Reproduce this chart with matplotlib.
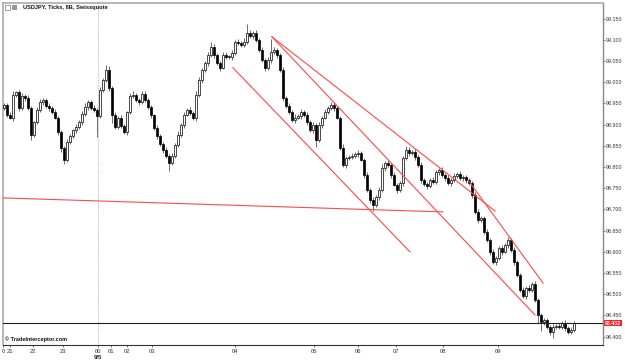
import numpy as np
import matplotlib
matplotlib.use("Agg")
import matplotlib.pyplot as plt
import matplotlib.transforms as mtransforms
from matplotlib.patches import Rectangle

# --- données (tick bars USDJPY) ---
first_open = 98.940
closes = [
    98.946, 98.923, 98.916, 98.970, 98.977, 98.939, 98.968, 98.963, 98.939, 98.876,
    98.906, 98.935, 98.953, 98.958, 98.944, 98.939, 98.930, 98.916, 98.883, 98.845,
    98.817, 98.859, 98.873, 98.887, 98.895, 98.906, 98.925, 98.942, 98.953, 98.939,
    98.935, 98.920, 98.982, 99.005, 99.029, 98.987, 98.923, 98.895, 98.916, 98.897,
    98.883, 98.930, 98.968, 98.970, 98.958, 98.953, 98.972, 98.958, 98.942, 98.923,
    98.892, 98.873, 98.854, 98.840, 98.826, 98.810, 98.826, 98.852, 98.876, 98.899,
    98.923, 98.935, 98.928, 98.916, 98.970, 99.005, 99.029, 99.045, 99.064, 99.083,
    99.064, 99.045, 99.034, 99.064, 99.060, 99.060, 99.069, 99.095, 99.093, 99.088,
    99.095, 99.116, 99.109, 99.116, 99.100, 99.076, 99.052, 99.034, 99.052, 99.071,
    99.076, 99.064, 99.029, 98.963, 98.944, 98.930, 98.911, 98.916, 98.920, 98.930,
    98.923, 98.906, 98.887, 98.899, 98.864, 98.899, 98.916, 98.930, 98.939, 98.946,
    98.939, 98.916, 98.845, 98.805, 98.821, 98.824, 98.826, 98.831, 98.833, 98.817,
    98.781, 98.746, 98.722, 98.710, 98.729, 98.746, 98.798, 98.810, 98.805, 98.781,
    98.758, 98.746, 98.762, 98.821, 98.840, 98.833, 98.835, 98.824, 98.805, 98.769,
    98.760, 98.755, 98.769, 98.765, 98.788, 98.793, 98.781, 98.774, 98.762, 98.769,
    98.779, 98.784, 98.774, 98.776, 98.769, 98.762, 98.734, 98.694, 98.675, 98.680,
    98.647, 98.628, 98.600, 98.576, 98.585, 98.609, 98.600, 98.616, 98.628, 98.604,
    98.576, 98.545, 98.510, 98.496, 98.515, 98.510, 98.524, 98.486, 98.451, 98.434,
    98.439, 98.423, 98.411, 98.423, 98.425, 98.423, 98.432, 98.420, 98.411, 98.415,
    98.432,
]
# mèches en millièmes de yen
hi_wick = [
    5, 4, 6, 8, 3, 5, 7, 4, 6, 5, 3, 6, 8, 4, 5, 6, 4, 7, 5, 3,
    4, 6, 5, 3, 7, 4, 6, 8, 5, 4, 6, 5, 7, 4, 12, 8, 5, 6, 4, 7,
    5, 3, 6, 8, 4, 5, 7, 6, 4, 5, 3, 6, 5, 4, 7, 5, 6, 4, 8, 5,
    6, 4, 7, 5, 8, 6, 4, 5, 7, 12, 6, 5, 4, 8, 6, 5, 7, 4, 6, 5,
    8, 20, 6, 5, 7, 4, 6, 5, 8, 30, 6, 5, 4, 7, 5, 6, 4, 8, 5, 6,
    4, 7, 5, 6, 5, 8, 4, 6, 5, 7, 6, 4, 5, 8, 6, 5, 7, 4, 6, 5,
    5, 6, 4, 7, 5, 6, 8, 4, 6, 5, 7, 4, 6, 5, 10, 6, 4, 7, 5, 6,
    5, 4, 6, 7, 5, 4, 6, 5, 8, 4, 6, 5, 7, 4, 6, 5, 4, 8, 6, 5,
    4, 6, 5, 7, 6, 4, 8, 5, 6, 4, 7, 5, 6, 8, 4, 6, 5, 7, 6, 4,
    5, 6, 4, 7, 5, 6, 4, 6, 5, 7, 4,
]
lo_wick = [
    6, 5, 4, 7, 5, 6, 4, 8, 5, 12, 6, 4, 5, 7, 4, 6, 5, 4, 8, 10,
    10, 5, 6, 4, 7, 5, 6, 4, 8, 5, 6, 50, 4, 6, 5, 7, 20, 5, 6, 4,
    5, 7, 4, 6, 5, 8, 4, 6, 5, 7, 4, 6, 5, 7, 6, 20, 5, 4, 6, 5,
    7, 4, 6, 5, 8, 4, 6, 5, 7, 4, 6, 5, 8, 4, 6, 5, 7, 4, 6, 5,
    5, 6, 4, 8, 5, 6, 4, 7, 5, 6, 4, 6, 5, 7, 4, 6, 5, 8, 4, 6,
    5, 7, 4, 6, 18, 5, 7, 4, 6, 5, 8, 4, 6, 5, 7, 4, 6, 5, 8, 4,
    6, 5, 7, 15, 5, 6, 4, 8, 5, 6, 4, 7, 5, 6, 4, 6, 5, 8, 4, 6,
    5, 7, 4, 6, 5, 8, 4, 6, 5, 7, 4, 6, 5, 8, 6, 4, 7, 5, 6, 4,
    6, 5, 8, 4, 6, 5, 7, 4, 6, 5, 8, 4, 6, 5, 7, 4, 6, 5, 20, 20,
    6, 5, 8, 15, 4, 6, 5, 7, 4, 6, 5,
]
last_price = 98.432

# axe des temps (index de barre -> heure)
time_pos = [-0.2, 1.9, 9.7, 19.7, 31.3, 35.7, 41.0, 49.3, 77.0, 103.3, 118.0, 130.7, 146.3, 164.7]
time_labels = ["0", "21", "22", "23", "00", "01", "02", "03", "04", "05", "06", "07", "08", "09"]
day_pos = 31.3
day_label = "9/5"

# lignes de tendance (index, prix)
trend_lines = [
    ((-0.3, 98.727), (146.3, 98.694)),
    ((76.3, 99.034), (135.3, 98.600)),
    ((89.3, 99.107), (163.7, 98.696)),
    ((89.3, 99.107), (177.0, 98.451)),
    ((154.7, 98.769), (179.7, 98.526)),
]

y_ticks = np.arange(98.40, 99.151, 0.05)

plt.rcParams["font.family"] = ["Liberation Sans", "DejaVu Sans"]

# -----------------------------
# Figure
# -----------------------------
closes = np.array(closes)
opens = np.concatenate([[first_open], closes[:-1]])
highs = np.maximum(opens, closes) + np.array(hi_wick) / 1000
lows = np.minimum(opens, closes) - np.array(lo_wick) / 1000
idx = np.arange(len(closes))

fig = plt.figure(figsize=(6.25, 3.64), dpi=100)
ax = fig.add_axes([3 / 625, 19 / 364, 600 / 625, 342 / 364])

ax.set_xlim(-1 / 3, 199.67)
ax.set_ylim(98.3802, 99.1866)

# séparateur de jour
ax.axvline(day_pos, color="#999999", lw=0.6, ls=(0, (1, 1.5)), zorder=1)

up = closes >= opens
ax.vlines(idx, lows, highs, color="#555555", lw=0.6, zorder=2)
body_h = np.maximum(np.abs(closes - opens), 0.0015)
ax.bar(idx[up], body_h[up], bottom=np.minimum(opens, closes)[up], width=0.72,
       color="white", edgecolor="black", linewidth=0.5, zorder=3)
ax.bar(idx[~up], body_h[~up], bottom=np.minimum(opens, closes)[~up], width=0.72,
       color="black", edgecolor="black", linewidth=0.5, zorder=3)

for (x0, y0), (x1, y1) in trend_lines:
    ax.plot([x0, x1], [y0, y1], color="#ff4848", lw=0.8, zorder=4)

ax.axhline(last_price, color="#222222", lw=0.8, zorder=5)

# axe des prix à droite
ax.yaxis.tick_right()
ax.set_yticks(y_ticks)
ax.set_yticklabels([f"{v:.3f}" for v in y_ticks])
ax.tick_params(axis="y", labelsize=3.8, length=1.5, width=0.5, pad=0.8, colors="#333333")
ax.set_xticks(time_pos)
ax.set_xticklabels(time_labels)
ax.tick_params(axis="x", labelsize=4.2, length=1.5, width=0.5, pad=1.5, colors="#333333")

tr = mtransforms.blended_transform_factory(ax.transData, ax.transAxes)
ax.text(day_pos, -0.028, day_label, transform=tr, ha="center", va="top",
        fontsize=4.2, fontweight="bold", color="#222222")

tr_r = mtransforms.blended_transform_factory(ax.transAxes, ax.transData)
ax.text(1.003, last_price, f"{last_price:.3f}", transform=tr_r, ha="left", va="center",
        fontsize=3.8, fontweight="bold", color="white",
        bbox=dict(boxstyle="square,pad=0.15", fc="#ff2020", ec="none"))

for side in ("left", "top"):
    ax.spines[side].set_color("#aaaaaa")
    ax.spines[side].set_linewidth(1.2)
ax.spines["right"].set_color("#888888")
ax.spines["right"].set_linewidth(1.0)
ax.spines["bottom"].set_color("#333333")
ax.spines["bottom"].set_linewidth(0.8)

ax.text(0.004, 0.01, "© TradeInterceptor.com", transform=ax.transAxes,
        fontsize=4, fontweight="bold", ha="left", va="bottom", color="#111111")

fig.text(23 / 625, 1 - 7 / 364, "USDJPY, Ticks, 8B, Swissquote", fontsize=4.1,
         fontweight="bold", ha="left", va="center", color="#111111")
fig.patches.append(Rectangle((12 / 625, 1 - 10 / 364), 5 / 625, 5 / 364,
                             transform=fig.transFigure, fc="#999999", ec="none"))
fig.patches.append(Rectangle((5 / 625, 1 - 10 / 364), 5 / 625, 5 / 364,
                             transform=fig.transFigure, fc="none", ec="#777777", lw=0.5))

fig.savefig("out.png", dpi=100)
